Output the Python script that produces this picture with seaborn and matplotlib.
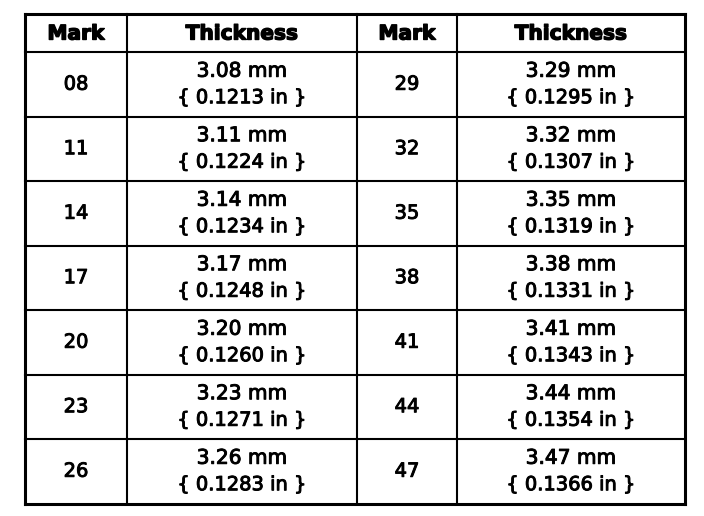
import matplotlib
matplotlib.use("Agg")
import matplotlib.pyplot as plt
import matplotlib.patheffects as pe
import seaborn as sns

# table data
marks = ["08", "11", "14", "17", "20", "23", "26",
         "29", "32", "35", "38", "41", "44", "47"]
thick_mm = ["3.08", "3.11", "3.14", "3.17", "3.20", "3.23", "3.26",
            "3.29", "3.32", "3.35", "3.38", "3.41", "3.44", "3.47"]
thick_in = ["0.1213", "0.1224", "0.1234", "0.1248", "0.1260", "0.1271", "0.1283",
            "0.1295", "0.1307", "0.1319", "0.1331", "0.1343", "0.1354", "0.1366"]
headers = ["Mark", "Thickness", "Mark", "Thickness"]

sns.set_theme(style="white")
plt.rcParams['font.family'] = ['DejaVu Sans']

fig = plt.figure(figsize=(7.04, 5.16), dpi=100)
ax = fig.add_axes([0, 0, 1, 1])
ax.set_xlim(0, 704)
ax.set_ylim(516, 0)
ax.axis("off")

# layout in pixels
col_x = [25, 127, 357, 457, 685]
row_y = [14, 52, 116.5, 181, 245.5, 310, 374.5, 439, 503.5]
n_rows = 7

# grid lines
for i, x in enumerate(col_x):
    lw = 2.2 if i in (0, len(col_x) - 1) else 1.5
    ax.plot([x, x], [row_y[0], row_y[-1]], color="black", lw=lw,
            solid_capstyle="projecting")
for j, y in enumerate(row_y):
    lw = 2.2 if j in (0, len(row_y) - 1) else 1.5
    ax.plot([col_x[0], col_x[-1]], [y, y], color="black", lw=lw,
            solid_capstyle="projecting")

thick = [pe.withStroke(linewidth=0.7, foreground="black")]
heavy = [pe.withStroke(linewidth=1.0, foreground="black")]

# header
for c, h in enumerate(headers):
    cx = (col_x[c] + col_x[c + 1]) / 2
    cy = (row_y[0] + row_y[1]) / 2
    ax.text(cx, cy + 1, h, ha="center", va="center", fontsize=14.5,
            fontweight="bold", color="black", path_effects=heavy)

# body
for half in range(2):
    for r in range(n_rows):
        k = half * n_rows + r
        cy = (row_y[r + 1] + row_y[r + 2]) / 2
        mx = (col_x[2 * half] + col_x[2 * half + 1]) / 2
        tx = (col_x[2 * half + 1] + col_x[2 * half + 2]) / 2
        ax.text(mx, cy, marks[k], ha="center", va="center", fontsize=14,
                color="black", path_effects=thick)
        ax.text(tx, cy - 13, f"{thick_mm[k]} mm", ha="center", va="center",
                fontsize=14.5, color="black", path_effects=thick)
        ax.text(tx, cy + 13.5, f"{{ {thick_in[k]} in }}", ha="center",
                va="center", fontsize=14, color="black", path_effects=thick)

fig.savefig("out.png", dpi=100)
